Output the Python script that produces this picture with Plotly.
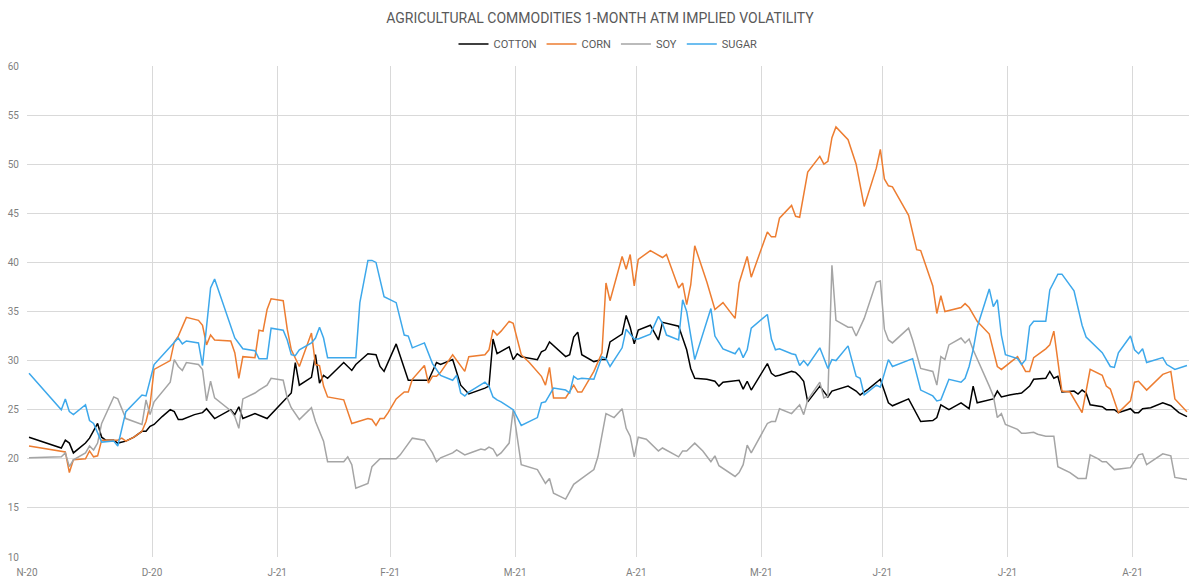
import pandas as pd
import plotly.graph_objects as go

START = "2020-11-30"
TICK_DATES = ["2020-11-30", "2020-12-31", "2021-01-31", "2021-02-28", "2021-03-31",
              "2021-04-30", "2021-05-31", "2021-06-30", "2021-07-31", "2021-08-31"]
TICK_LABELS = ["N-20", "D-20", "J-21", "F-21", "M-21", "A-21", "M-21", "J-21", "J-21", "A-21"]

# observation days (days since START) and implied vol values
COTTON_DAY = [0, 8, 9, 10, 11, 14, 15, 16, 17, 18, 19, 21, 22, 24, 26, 28, 29, 30, 31, 33, 35, 36, 37, 38,
              41, 43, 44, 46, 50, 51, 52, 53, 56, 59, 61, 65, 66, 67, 70, 71, 72, 73, 74, 78, 80, 81, 84,
              86, 87, 88, 91, 94, 99, 101, 102, 105, 107, 109, 113, 114, 115, 116, 119, 120, 121, 122,
              126, 127, 128, 129, 133, 134, 135, 136, 137, 140, 142, 143, 144, 147, 148, 149, 150, 151,
              154, 156, 157, 161, 162, 163, 164, 165, 168, 170, 171, 172, 176, 177, 178, 179, 183, 184,
              185, 186, 189, 190, 191, 192, 193, 196, 198, 199, 203, 205, 206, 208, 211, 212, 213, 214,
              218, 221, 224, 225, 226, 228, 231, 233, 234, 235, 238, 239, 240, 241, 243, 246, 248, 249,
              252, 253, 254, 255, 256, 259, 260, 261, 262, 263, 266, 267, 269, 270, 273, 274, 275, 276,
              278, 281, 283, 285, 287]
COTTON = [22.2, 21.1, 21.9, 21.6, 20.6, 21.6, 22.1, 22.8, 23.6, 22.2, 21.9, 21.9, 21.6, 21.8, 22.2, 22.8,
          22.8, 23.3, 23.5, 24.3, 25.0, 24.8, 24.0, 24.0, 24.5, 24.7, 25.1, 24.1, 25.0, 24.5, 25.3, 24.1,
          24.6, 24.1, 25.0, 26.7, 29.8, 27.5, 28.3, 30.6, 27.7, 28.5, 28.2, 29.8, 29.0, 29.6, 30.7, 30.6,
          29.4, 28.9, 31.7, 28.0, 28.0, 29.8, 29.6, 30.1, 27.5, 26.6, 27.2, 27.4, 32.2, 30.7, 31.4, 30.1,
          30.7, 30.4, 30.1, 30.9, 31.1, 31.9, 30.4, 30.6, 32.4, 32.9, 30.6, 29.9, 30.1, 30.1, 31.9, 32.7,
          34.6, 33.4, 31.7, 33.1, 33.6, 32.1, 33.9, 33.5, 32.3, 31.1, 29.2, 28.2, 28.1, 27.9, 27.4, 27.8,
          28.0, 27.1, 27.9, 27.0, 29.7, 28.7, 28.4, 28.5, 28.9, 28.8, 28.4, 27.9, 25.8, 27.4, 26.3, 26.9,
          27.4, 26.9, 26.5, 27.1, 28.1, 26.8, 25.7, 25.4, 26.1, 23.8, 23.9, 24.2, 25.5, 25.0, 25.7, 25.1,
          27.4, 25.7, 26.0, 26.1, 26.9, 26.3, 26.5, 26.7, 27.4, 28.1, 28.2, 28.9, 28.2, 28.4, 26.8, 26.9,
          26.6, 27.0, 26.7, 25.5, 25.3, 25.0, 25.0, 24.7, 25.1, 24.7, 24.7, 25.1, 25.2, 25.7, 25.4, 24.7,
          24.3]

CORN_DAY = [0, 9, 10, 11, 14, 15, 16, 17, 18, 20, 22, 23, 24, 26, 28, 29, 30, 31, 35, 36, 37, 39, 42, 43,
            44, 45, 46, 50, 51, 52, 53, 56, 57, 58, 59, 60, 63, 64, 65, 67, 70, 71, 72, 73, 74, 78, 80, 84,
            85, 86, 87, 88, 89, 91, 93, 94, 95, 98, 99, 100, 101, 102, 105, 108, 109, 113, 114, 115, 116,
            117, 118, 119, 120, 122, 124, 127, 128, 129, 130, 133, 135, 136, 137, 140, 142, 143, 144, 147,
            148, 149, 150, 151, 154, 157, 158, 161, 162, 163, 164, 165, 168, 170, 172, 175, 176, 178, 179,
            183, 184, 185, 186, 189, 190, 191, 193, 196, 197, 198, 199, 200, 203, 205, 207, 210, 211, 212,
            213, 214, 218, 220, 221, 224, 225, 226, 227, 231, 232, 233, 235, 238, 240, 241, 245, 246, 247,
            248, 249, 252, 253, 254, 256, 258, 261, 263, 266, 267, 268, 270, 273, 274, 275, 277, 281, 283,
            284, 287]
CORN = [21.3, 20.7, 18.6, 19.9, 20.0, 20.8, 20.2, 20.3, 21.9, 21.9, 21.9, 22.1, 21.8, 22.2, 22.8, 23.8,
        25.5, 29.1, 30.0, 31.9, 32.5, 34.4, 34.1, 33.6, 31.6, 32.6, 32.1, 32.0, 30.8, 28.2, 30.4, 30.3,
        33.1, 33.0, 35.2, 36.3, 36.1, 33.2, 31.1, 29.4, 32.8, 29.6, 29.5, 27.4, 26.3, 26.0, 23.6, 24.1,
        24.0, 23.4, 24.1, 24.1, 24.7, 26.1, 26.8, 26.8, 28.1, 29.5, 27.7, 28.4, 28.4, 28.8, 30.6, 28.9,
        30.4, 30.6, 31.1, 33.1, 32.6, 33.0, 33.5, 34.0, 33.8, 30.6, 29.8, 28.4, 27.5, 29.3, 26.2, 26.2,
        27.5, 26.8, 26.8, 28.9, 30.8, 37.9, 36.1, 40.6, 39.3, 40.8, 37.6, 40.3, 41.2, 40.5, 40.8, 37.4,
        37.9, 35.7, 37.7, 41.7, 38.0, 35.2, 35.9, 34.3, 37.9, 40.6, 38.5, 43.1, 42.6, 42.6, 44.5, 45.8,
        44.7, 44.6, 49.2, 50.8, 50.0, 50.3, 52.7, 53.8, 52.5, 50.0, 45.7, 49.6, 51.5, 48.5, 47.8, 47.7,
        44.8, 41.3, 41.2, 37.6, 34.8, 36.6, 35.0, 35.4, 35.8, 35.4, 34.0, 32.7, 29.4, 29.1, 30.4, 29.7,
        28.9, 28.9, 30.3, 31.2, 31.6, 33.0, 26.9, 26.8, 24.7, 29.1, 28.5, 27.4, 27.1, 24.7, 25.9, 27.8,
        27.9, 27.0, 28.6, 28.9, 26.1, 24.8]

SOY_DAY = [0, 8, 9, 10, 11, 14, 15, 16, 17, 18, 21, 22, 24, 28, 29, 30, 31, 35, 36, 37, 38, 39, 42, 43, 44,
           45, 46, 50, 51, 52, 53, 56, 57, 59, 60, 63, 64, 65, 67, 70, 71, 73, 74, 78, 79, 80, 81, 84, 85,
           87, 91, 92, 95, 98, 100, 101, 102, 105, 106, 108, 110, 112, 113, 114, 115, 116, 117, 119, 120,
           122, 126, 127, 128, 129, 130, 133, 135, 137, 140, 141, 143, 145, 147, 148, 149, 150, 151, 153,
           156, 157, 161, 162, 163, 165, 167, 169, 170, 171, 175, 176, 177, 178, 179, 183, 184, 185, 186,
           189, 190, 191, 192, 193, 196, 197, 198, 199, 200, 203, 204, 205, 207, 210, 211, 212, 213, 214,
           218, 219, 221, 224, 225, 226, 227, 228, 231, 232, 233, 234, 238, 239, 240, 241, 242, 245, 246,
           247, 249, 250, 252, 254, 255, 258, 260, 262, 263, 265, 266, 267, 269, 273, 275, 276, 277, 281,
           283, 284, 287]
SOY = [20.1, 20.2, 20.6, 19.2, 19.9, 20.6, 21.3, 20.9, 21.6, 23.6, 26.3, 26.1, 24.1, 23.5, 26.0, 24.5,
       25.8, 27.8, 30.1, 29.4, 29.0, 29.8, 29.6, 29.1, 25.9, 27.9, 26.2, 24.9, 24.3, 23.1, 26.1, 26.7,
       27.0, 27.5, 28.2, 28.0, 26.2, 25.2, 24.0, 25.2, 23.8, 21.8, 19.7, 19.7, 20.2, 19.4, 17.0, 17.5,
       19.2, 20.0, 20.0, 20.4, 22.1, 21.9, 20.6, 19.7, 20.1, 20.6, 20.9, 20.4, 20.7, 21.0, 20.9, 21.2,
       21.0, 20.3, 20.6, 21.6, 25.0, 19.4, 18.9, 18.2, 17.5, 18.0, 16.5, 15.9, 17.4, 18.0, 18.9, 20.2,
       24.6, 24.2, 25.1, 23.1, 22.3, 20.2, 22.2, 22.0, 20.8, 21.1, 20.2, 20.8, 20.8, 21.6, 20.8, 19.7,
       20.3, 19.3, 18.2, 18.6, 19.4, 21.4, 20.6, 23.6, 23.8, 23.8, 25.1, 24.6, 25.1, 25.5, 24.5, 26.0,
       27.8, 26.2, 26.4, 39.7, 34.1, 33.4, 33.4, 32.5, 34.3, 38.0, 38.1, 33.2, 32.1, 31.8, 33.3, 32.1,
       29.2, 28.9, 27.5, 30.4, 30.1, 31.6, 32.3, 31.8, 32.2, 31.1, 27.4, 26.4, 24.2, 24.6, 23.5, 23.0,
       22.6, 22.6, 22.7, 22.5, 22.3, 22.3, 19.2, 18.6, 18.0, 18.0, 20.4, 20.0, 19.7, 19.7, 18.9, 19.1,
       20.4, 20.5, 19.4, 20.5, 20.3, 18.1, 17.9]

SUGAR_DAY = [0, 8, 9, 10, 11, 14, 15, 16, 18, 21, 22, 24, 28, 29, 31, 35, 37, 38, 39, 42, 43, 45, 46, 51,
             53, 56, 57, 59, 60, 63, 64, 65, 66, 67, 70, 71, 72, 73, 74, 81, 82, 84, 85, 86, 88, 91, 93,
             94, 95, 98, 100, 102, 105, 106, 107, 108, 109, 113, 114, 115, 116, 117, 120, 122, 126, 127,
             128, 130, 133, 134, 135, 136, 137, 140, 142, 143, 144, 147, 148, 150, 151, 154, 156, 157,
             158, 161, 162, 163, 165, 169, 170, 172, 175, 176, 177, 178, 179, 183, 184, 185, 186, 189,
             190, 191, 192, 193, 196, 198, 199, 200, 203, 205, 206, 207, 210, 211, 213, 214, 219, 221,
             224, 225, 226, 228, 231, 232, 233, 234, 235, 238, 239, 240, 241, 242, 245, 246, 247, 248,
             249, 252, 253, 255, 256, 259, 261, 262, 266, 268, 269, 270, 273, 274, 275, 276, 277, 281,
             282, 284, 287]
SUGAR = [28.7, 25.0, 26.1, 24.8, 24.5, 25.5, 23.9, 23.6, 21.7, 21.8, 21.3, 24.8, 26.5, 26.4, 29.6, 31.4,
         32.3, 31.7, 32.0, 31.8, 29.5, 37.4, 38.3, 32.3, 31.2, 31.0, 30.2, 30.2, 33.3, 33.1, 32.1, 30.6,
         30.5, 31.1, 31.8, 32.3, 33.4, 32.3, 30.3, 30.3, 35.9, 40.2, 40.2, 40.0, 36.5, 35.9, 32.6, 32.5,
         31.3, 31.8, 29.7, 28.5, 28.0, 28.5, 26.7, 26.4, 26.8, 27.8, 27.4, 26.3, 26.0, 25.8, 25.0, 23.4,
         24.2, 25.7, 25.8, 27.2, 27.0, 26.7, 28.4, 28.1, 28.2, 28.1, 30.4, 30.2, 29.4, 31.3, 33.2, 32.2,
         32.2, 32.7, 34.5, 33.8, 32.6, 32.1, 36.2, 35.0, 30.1, 35.3, 32.5, 31.2, 30.7, 31.3, 30.3, 31.1,
         33.3, 34.7, 32.2, 31.1, 31.2, 30.7, 30.6, 29.5, 30.0, 29.5, 31.3, 29.2, 30.1, 30.0, 31.5, 28.4,
         28.2, 26.5, 27.5, 27.3, 30.1, 29.4, 30.2, 27.0, 26.4, 25.9, 26.0, 28.1, 27.8, 28.2, 29.4, 31.1,
         33.4, 37.3, 35.5, 36.2, 32.6, 30.6, 30.2, 29.6, 30.1, 33.5, 34.0, 34.0, 37.2, 38.8, 38.8, 37.1,
         33.6, 32.4, 30.8, 29.4, 29.3, 30.8, 32.5, 31.1, 30.7, 31.2, 29.8, 30.3, 29.6, 29.1, 29.5]

SERIES = [
    ("COTTON", COTTON_DAY, COTTON, "#000000"),
    ("CORN", CORN_DAY, CORN, "#ED7D31"),
    ("SOY", SOY_DAY, SOY, "#A5A5A5"),
    ("SUGAR", SUGAR_DAY, SUGAR, "#3DA8EB"),
]

start = pd.Timestamp(START)
fig = go.Figure()
for name, days, vals, color in SERIES:
    # Excel date axes centre each day's point in its daily slot
    x = start + pd.to_timedelta(days, unit="D") + pd.Timedelta(hours=12)
    fig.add_trace(go.Scatter(x=x, y=vals, name=name, mode="lines",
                             line=dict(color=color, width=1.5)))

fig.update_layout(
    width=1200, height=583,
    paper_bgcolor="white", plot_bgcolor="white",
    margin=dict(l=27, r=11, t=66, b=26, autoexpand=False),
    font=dict(family="Roboto, sans-serif", color="#595959"),
    title=dict(text="AGRICULTURAL COMMODITIES 1-MONTH ATM IMPLIED VOLATILITY",
               x=0.5, xanchor="center", y=0.969, yanchor="middle",
               font=dict(size=14, color="#595959")),
    legend=dict(orientation="h", x=0.5, xanchor="center", y=1.045, yanchor="middle",
                font=dict(size=11, color="#595959"), bgcolor="rgba(0,0,0,0)"),
    showlegend=True,
)
fig.update_xaxes(
    type="date",
    range=[start, start + pd.Timedelta(days=288)],
    tickvals=TICK_DATES, ticktext=TICK_LABELS,
    showgrid=True, gridcolor="#D9D9D9", gridwidth=1,
    showline=False, zeroline=False, ticks="",
    ticklabelstandoff=8, automargin=False,
    tickfont=dict(size=10, color="#7F7F7F"),
)
fig.update_yaxes(
    range=[10, 60], dtick=5, tick0=10,
    showgrid=True, gridcolor="#D9D9D9", gridwidth=1,
    showline=False, zeroline=False, ticks="",
    ticklabelstandoff=7, automargin=False,
    tickfont=dict(size=10, color="#7F7F7F"),
)

fig.write_html("out.html")
